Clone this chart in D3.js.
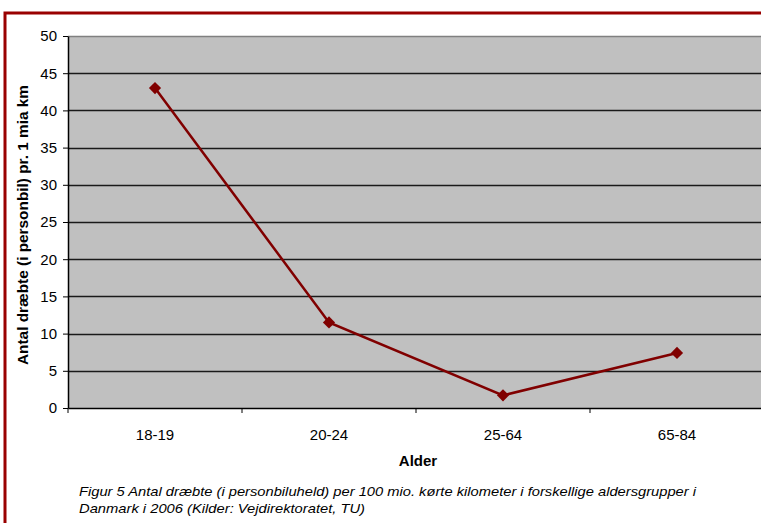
<!DOCTYPE html>
<html>
<head>
<meta charset="utf-8">
<script src="https://cdn.jsdelivr.net/npm/d3@7"></script>
<style>
  html, body { margin: 0; padding: 0; background: #fff; }
  svg { display: block; }
</style>
</head>
<body>
<svg id="chart" width="761" height="523"></svg>
<script>
// Killed per 100 million km driven, by age group (Denmark 2006)
const categories = ["18-19", "20-24", "25-64", "65-84"];
const values = [43.0, 11.5, 1.7, 7.4];
const yTicks = [0, 5, 10, 15, 20, 25, 30, 35, 40, 45, 50];
const yTitle = "Antal dræbte (i personbil) pr. 1 mia km";
const xTitle = "Alder";
const captionLines = [
  "Figur 5 Antal dræbte (i personbiluheld) per 100 mio. kørte kilometer i forskellige aldersgrupper i",
  "Danmark i 2006 (Kilder: Vejdirektoratet, TU)"
];
const captionWidths = [617, 286];

const svg = d3.select("#chart");
const font = "Arial, 'Liberation Sans', sans-serif";

// outer frame (red)
svg.append("rect")
  .attr("x", 5).attr("y", 13)
  .attr("width", 780).attr("height", 540)
  .attr("fill", "none")
  .attr("stroke", "#990000")
  .attr("stroke-width", 3);

const plot = { left: 68, top: 36, right: 764, bottom: 408 };

const x = d3.scaleBand()
  .domain(categories)
  .range([plot.left, plot.right])
  .padding(0);

const y = d3.scaleLinear()
  .domain([0, 50])
  .range([plot.bottom, plot.top]);

// plot background
svg.append("rect")
  .attr("x", plot.left).attr("y", plot.top)
  .attr("width", plot.right - plot.left)
  .attr("height", plot.bottom - plot.top)
  .attr("fill", "#c0c0c0");

// horizontal gridlines
svg.append("g")
  .selectAll("line")
  .data(yTicks.filter(d => d > 0))
  .join("line")
  .attr("x1", plot.left).attr("x2", plot.right)
  .attr("y1", d => Math.round(y(d)) + 0.5)
  .attr("y2", d => Math.round(y(d)) + 0.5)
  .attr("stroke", d => d === 50 ? "#808080" : "#1a1a1a")
  .attr("stroke-width", 1.4);

// y axis
const yAxis = svg.append("g")
  .attr("transform", `translate(${plot.left},0)`)
  .call(d3.axisLeft(y).tickValues(yTicks).tickSize(5).tickPadding(6).tickSizeOuter(0));
yAxis.select(".domain").attr("stroke", "#000").attr("stroke-width", 1.5);
yAxis.selectAll(".tick line").attr("stroke", "#000");
yAxis.selectAll(".tick text")
  .attr("font-family", font).attr("font-size", 15).attr("fill", "#000");

// x axis
const xAxis = svg.append("g")
  .attr("transform", `translate(0,${plot.bottom})`)
  .call(d3.axisBottom(x).tickSize(0).tickPadding(21));
xAxis.select(".domain").attr("stroke", "#000").attr("stroke-width", 1.5);
xAxis.selectAll(".tick text")
  .attr("font-family", font).attr("font-size", 15).attr("fill", "#000");

// category boundary ticks
svg.append("g")
  .selectAll("line")
  .data(categories.slice(1))
  .join("line")
  .attr("x1", d => x(d)).attr("x2", d => x(d))
  .attr("y1", plot.bottom).attr("y2", plot.bottom + 5)
  .attr("stroke", "#000");
svg.append("line")
  .attr("x1", plot.left).attr("x2", plot.left)
  .attr("y1", plot.bottom).attr("y2", plot.bottom + 5)
  .attr("stroke", "#000");

// data line
const cx = d => x(d) + x.bandwidth() / 2;
const line = d3.line()
  .x((d, i) => cx(categories[i]))
  .y(d => y(d));

svg.append("path")
  .datum(values)
  .attr("d", line)
  .attr("fill", "none")
  .attr("stroke", "#800000")
  .attr("stroke-width", 2.5);

// diamond markers
const diamond = d3.symbol().type(d3.symbolDiamond2).size(95);
svg.append("g")
  .selectAll("path")
  .data(values)
  .join("path")
  .attr("d", diamond)
  .attr("transform", (d, i) => `translate(${cx(categories[i])},${y(d)})`)
  .attr("fill", "#800000");

// axis titles
svg.append("text")
  .attr("transform", `translate(28,${(plot.top + plot.bottom) / 2 + 3}) rotate(-90)`)
  .attr("text-anchor", "middle")
  .attr("font-family", font).attr("font-size", 15).attr("font-weight", "bold")
  .attr("textLength", 280).attr("lengthAdjust", "spacingAndGlyphs")
  .text(yTitle);

svg.append("text")
  .attr("x", (plot.left + plot.right) / 2 + 2).attr("y", 466)
  .attr("text-anchor", "middle")
  .attr("font-family", font).attr("font-size", 15).attr("font-weight", "bold")
  .text(xTitle);

// caption
svg.append("g")
  .selectAll("text")
  .data(captionLines)
  .join("text")
  .attr("x", 79)
  .attr("y", (d, i) => 496 + i * 17)
  .attr("font-family", font).attr("font-size", 13.5).attr("font-style", "italic")
  .attr("textLength", (d, i) => captionWidths[i]).attr("lengthAdjust", "spacingAndGlyphs")
  .attr("fill", "#000")
  .text(d => d);
</script>
</body>
</html>
